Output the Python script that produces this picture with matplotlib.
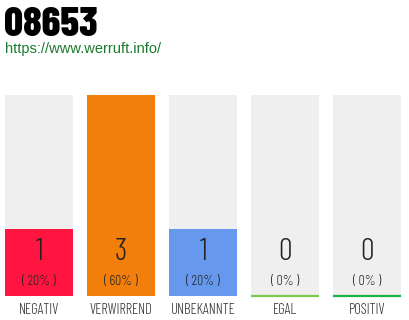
import matplotlib
matplotlib.use("Agg")
import matplotlib.pyplot as plt
from matplotlib import font_manager
from matplotlib.transforms import blended_transform_factory

# Data
title = "08653"
url = "https://www.werruft.info/"
categories = ["NEGATIV", "VERWIRREND", "UNBEKANNTE", "EGAL", "POSITIV"]
counts = [1, 3, 1, 0, 0]
percents = ["( 20% )", "( 60% )", "( 20% )", "( 0% )", "( 0% )"]
bar_colors = ["#ff153f", "#f27e0c", "#6699ee", "#efefef", "#efefef"]
line_colors = [None, None, None, "#7cc94a", "#1ab540"]

names = {f.name for f in font_manager.fontManager.ttflist}
cond = "Barlow Condensed" if "Barlow Condensed" in names else "DejaVu Sans"

W, H = 410, 320
fig = plt.figure(figsize=(W / 100, H / 100), dpi=100)

# axes placed over the bar area (pixel 5..401, 95..296)
ax = fig.add_axes([5 / W, (H - 296) / H, 396 / W, 201 / H])
ax.set_xlim(-0.4146, len(categories) - 1 + 0.4146)
ax.set_ylim(0, max(counts))
ax.axis("off")

x = list(range(len(categories)))
width = 68 / 82
total = max(counts)

ax.bar(x, [total] * len(x), width=width, color="#efefef")
ax.bar(x, counts, width=width, color=bar_colors)

for i, c in enumerate(line_colors):
    if c:
        ax.plot([i - width / 2, i + width / 2], [0, 0], color=c, lw=1.6,
                solid_capstyle="butt", clip_on=False)

tr = blended_transform_factory(ax.transData, ax.transAxes)
for i in x:
    ax.text(i, 44 / 201, str(counts[i]), transform=tr, ha="center", va="center",
            fontsize=22, fontweight=300, color="#222222", family=cond)
    ax.text(i, 15 / 201, percents[i], transform=tr, ha="center", va="center",
            fontsize=10, fontweight=300, color="#222222", family=cond)
    ax.text(i, -14 / 201, categories[i], transform=tr, ha="center", va="center",
            fontsize=10.5, fontweight=300, color="#333333", family=cond)

fig.text(4 / W, 1 - 36 / H, title, ha="left", va="baseline", fontsize=30,
         fontweight=800, color="black", family=cond)
fig.text(5 / W, 1 - 53 / H, url, ha="left", va="baseline", fontsize=10.5,
         color="#1a7a2e", family="Liberation Sans")

fig.savefig("out.png", dpi=100)
